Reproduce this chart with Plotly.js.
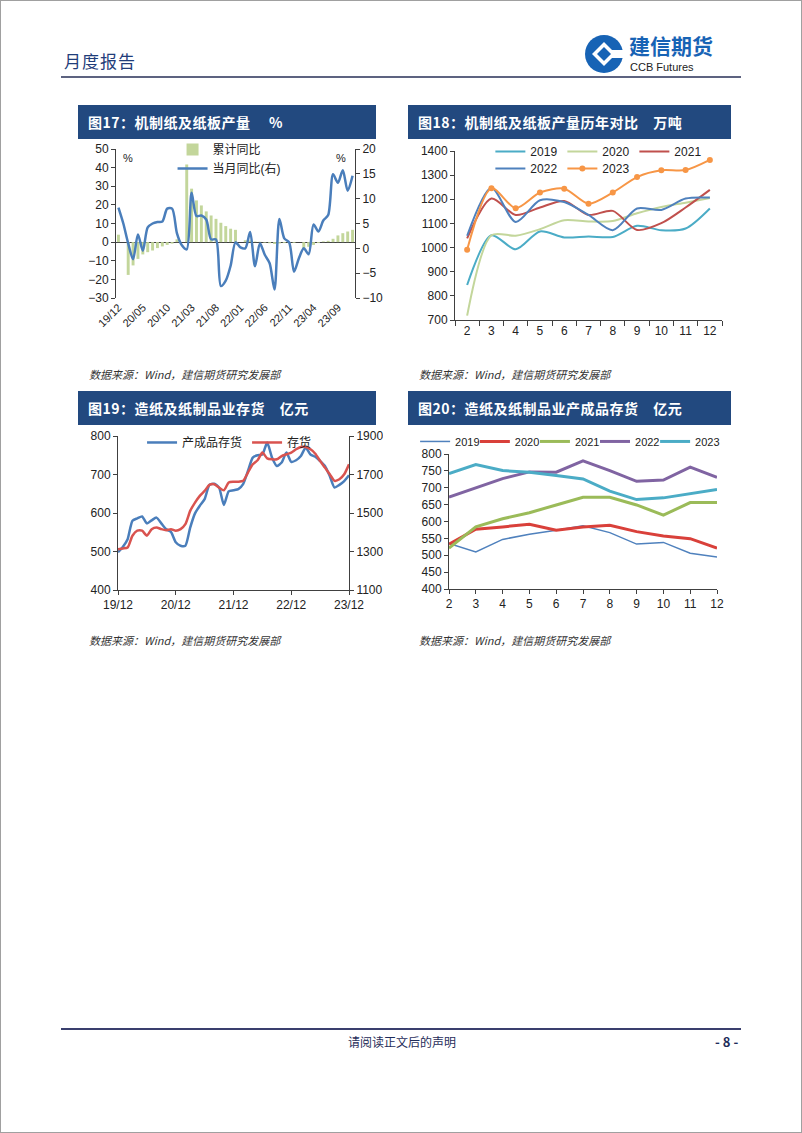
<!DOCTYPE html>
<html><head><meta charset="utf-8">
<script src="https://cdn.plot.ly/plotly-3.0.1.min.js"></script>
<style>
html,body{margin:0;padding:0;background:#fff;}
#page{position:relative;width:802px;height:1133px;box-sizing:border-box;border:1px solid #a0a0a0;overflow:hidden;font-family:"Noto Sans CJK SC","Liberation Sans",sans-serif;}
.abs{position:absolute;line-height:1;}
.band{position:absolute;z-index:2;background:#22497f;color:#fff;font-weight:bold;font-size:14px;line-height:34px;height:34px;padding-left:10px;box-sizing:border-box;letter-spacing:0.5px;}
.src{position:absolute;font-size:11px;font-style:italic;color:#333;}
.chart{position:absolute;z-index:1;}
</style></head>
<body><div id="page">
<div class="abs" style="left:63px;top:51px;font-size:17px;color:#1f3d7a;letter-spacing:1px;">月度报告</div>
<svg class="abs" style="left:580px;top:30px;" width="46" height="46" viewBox="0 0 46 46">
<circle cx="23" cy="23" r="19" fill="#1763b5"/>
<rect x="25" y="19" width="20" height="8" fill="#fff"/>
<polygon points="23,11 35,23 23,35 11,23" fill="#fff"/>
<polygon points="23,16 30,23 23,30 16,23" fill="#1763b5"/>
</svg>
<div class="abs" style="left:628px;top:34px;font-size:21px;font-weight:bold;color:#1763b5;">建信期货</div>
<div class="abs" style="left:629px;top:61px;font-size:11px;color:#222;font-family:'Liberation Sans',Arial,sans-serif;">CCB Futures</div>
<div class="abs" style="left:60px;top:75px;width:680px;height:2px;background:#5d6380;"></div>

<div class="band" style="left:77px;top:104px;width:298px;">图17：机制纸及纸板产量&nbsp;&nbsp;&nbsp;&nbsp;&nbsp;%</div>
<div class="band" style="left:407px;top:104px;width:323px;">图18：机制纸及纸板产量历年对比&nbsp;&nbsp;&nbsp;&nbsp;万吨</div>
<div class="band" style="left:77px;top:390px;width:298px;">图19：造纸及纸制品业存货&nbsp;&nbsp;&nbsp;&nbsp;亿元</div>
<div class="band" style="left:407px;top:390px;width:323px;">图20：造纸及纸制品业产成品存货&nbsp;&nbsp;&nbsp;&nbsp;亿元</div>

<div id="c17" class="chart" style="left:77px;top:128px;width:305px;height:222px;"></div>
<div id="c18" class="chart" style="left:407px;top:128px;width:323px;height:222px;"></div>
<div id="c19" class="chart" style="left:77px;top:414px;width:305px;height:206px;"></div>
<div id="c20" class="chart" style="left:407px;top:414px;width:323px;height:206px;"></div>

<div class="src" style="left:88px;top:365px;">数据来源：Wind，建信期货研究发展部</div>
<div class="src" style="left:418px;top:365px;">数据来源：Wind，建信期货研究发展部</div>
<div class="src" style="left:88px;top:631px;">数据来源：Wind，建信期货研究发展部</div>
<div class="src" style="left:418px;top:631px;">数据来源：Wind，建信期货研究发展部</div>

<div class="abs" style="left:60px;top:1027px;width:680px;height:2px;background:#3a3f6e;"></div>
<div class="abs" style="left:0;top:1035px;width:802px;text-align:center;font-size:12px;color:#1f2d5a;">请阅读正文后的声明</div>
<div class="abs" style="left:714px;top:1034px;font-size:13px;color:#1f2d5a;font-weight:bold;">- 8 -</div>
</div>
<script>
// ---------- Data ----------
const months = ['19/12','20/01','20/02','20/03','20/04','20/05','20/06','20/07','20/08','20/09','20/10','20/11',
 '20/12','21/01','21/02','21/03','21/04','21/05','21/06','21/07','21/08','21/09','21/10','21/11',
 '21/12','22/01','22/02','22/03','22/04','22/05','22/06','22/07','22/08','22/09','22/10','22/11',
 '22/12','23/01','23/02','23/03','23/04','23/05','23/06','23/07','23/08','23/09','23/10','23/11','23/12'];
const ticks17 = ['19/12','20/05','20/10','21/03','21/08','22/01','22/06','22/11','23/04','23/09'];
const cumYoY = [4.0,null,-17.6,-12.5,-9.0,-6.6,-5.4,-4.5,-3.2,-2.3,-1.5,-0.8,
 1.5,null,41.7,28.7,22.4,19.7,16.5,14.3,12.5,10.4,8.6,7.2,
 6.6,null,1.0,0.9,0.3,0.2,-0.3,-0.6,-1.0,-0.7,-0.5,-0.3,
 -0.4,null,-3.5,-2.5,-1.5,-0.5,0.4,0.7,1.8,3.6,4.8,5.7,6.6];
const monthYoY = [8.2,5.0,1.0,-2.2,2.8,-0.5,4.2,5.0,5.3,5.4,8.0,8.0,
 3.0,0.6,-0.2,11.2,6.5,6.6,5.8,1.8,1.8,-7.6,-6.5,-3.5,
 1.2,0.2,0.0,3.3,-3.6,1.0,-1.3,-3.0,-8.3,5.9,2.0,1.2,
 -4.7,-2.0,0.0,-1.2,4.8,3.4,5.6,6.7,14.9,13.2,15.7,11.6,14.6];

const mon = ['2','3','4','5','6','7','8','9','10','11','12'];
const years = ['2019','2020','2021','2022','2023'];
const prod2019 = [845,1051,993,1067,1042,1046,1044,1090,1072,1079,1162];
const prod2020 = [718,1051,1049,1076,1113,1108,1110,1142,1168,1186,1205];
const prod2021 = [1038,1203,1135,1166,1193,1135,1152,1073,1101,1166,1239];
const prod2022 = [1049,1248,1106,1196,1189,1135,1072,1162,1156,1203,1207];
const prod2023 = [991,1246,1163,1228,1244,1182,1228,1292,1320,1321,1363];

const ticks19 = ['19/12','20/12','21/12','22/12','23/12'];
const invFinished = [498,512,532,580,586,591,573,581,588,573,558,551,
 524,515,515,562,599,619,636,673,676,666,621,656,
 659,662,675,709,744,750,752,783,744,722,731,757,
 733,737,748,770,752,746,735,722,696,666,673,683,698];
const invTotal = [1312,1316,1321,1382,1408,1408,1382,1416,1425,1416,1411,1416,
 1408,1416,1442,1511,1554,1589,1615,1646,1649,1632,1618,1658,
 1662,1662,1667,1710,1753,1774,1814,1784,1779,1779,1796,1805,
 1814,1831,1843,1843,1831,1808,1770,1736,1701,1667,1675,1701,1753];

const fin2019 = [535,510,547,562,574,587,567,533,538,506,495];
const fin2020 = [533,577,584,592,574,584,589,570,557,549,521];
const fin2021 = [521,584,608,626,649,672,672,649,619,656,656];
const fin2022 = [672,700,727,747,746,780,751,719,723,761,731];
const fin2023 = [742,769,751,746,736,726,690,665,670,682,695];

// ---------- Common ----------
const FONT = {family:'"Liberation Sans", Arial, "Noto Sans CJK SC", sans-serif', size:12, color:'#222'};
const AX = '#404040';
const cfg = {staticPlot:true, displayModeBar:false};
const legBase = {xref:'container', yref:'container', xanchor:'left', yanchor:'top', bgcolor:'rgba(0,0,0,0)', borderwidth:0};
const BG = 'rgba(0,0,0,0)';

// ---------- Fig 17 ----------
Plotly.newPlot('c17', [
 {type:'bar', x:months, y:cumYoY, name:'累计同比', marker:{color:'#c3d69b'}, yaxis:'y'},
 {type:'scatter', mode:'lines', x:months, y:monthYoY, name:'当月同比(右)', yaxis:'y2',
  line:{color:'#4a7ebb', width:2.5, shape:'spline', smoothing:0.8}}
], {
 width:305, height:222, margin:{l:38,r:28,t:20,b:53,autoexpand:false},
 paper_bgcolor:BG, plot_bgcolor:BG, font:FONT, bargap:0.4, showlegend:true,
 legend:Object.assign({}, legBase, {x:0.31, y:0.973, font:{size:12,family:FONT.family}, tracegroupgap:0}),
 xaxis:{type:'category', range:[-0.5,48.5], tickmode:'array', tickvals:ticks17, ticktext:ticks17, tickangle:-45,
  showline:false, ticks:'', showgrid:false, tickfont:{size:11}, automargin:false},
 yaxis:{range:[-30,50], dtick:10, showline:true, linecolor:AX, ticks:'outside', ticklen:4, tickcolor:AX,
  showgrid:false, zeroline:true, zerolinecolor:AX, zerolinewidth:1, automargin:false},
 yaxis2:{range:[-10,20], dtick:5, overlaying:'y', side:'right', showline:true, linecolor:AX, ticks:'outside',
  ticklen:4, tickcolor:AX, showgrid:false, zeroline:false, automargin:false},
 annotations:[
  {text:'%', xref:'paper', yref:'paper', x:0.02, y:0.99, showarrow:false, xanchor:'left', yanchor:'top', font:{size:11}},
  {text:'%', xref:'paper', yref:'paper', x:0.97, y:0.99, showarrow:false, xanchor:'right', yanchor:'top', font:{size:11}}
 ]
}, cfg);

// ---------- Fig 18 ----------
const cols18 = ['#4bacc6','#c3d69b','#c0504d','#4f81bd','#f79646'];
const prodAll = [prod2019,prod2020,prod2021,prod2022,prod2023];
const tr18 = prodAll.map((d,i)=>({
 type:'scatter', mode: i===4 ? 'lines+markers' : 'lines', x:mon, y:d, name:years[i],
 line:{color:cols18[i], width:2, shape:'spline', smoothing:0.8},
 marker:{size:6, color:cols18[i]}, legend: i<3 ? 'legend' : 'legend2'
}));
Plotly.newPlot('c18', tr18, {
 width:323, height:222, margin:{l:47,r:9,t:22,b:31,autoexpand:false},
 paper_bgcolor:BG, plot_bgcolor:BG, font:FONT, showlegend:true,
 legend:Object.assign({}, legBase, {orientation:'h', x:0.255, y:0.964, entrywidth:27, font:{size:12,family:FONT.family}}),
 legend2:Object.assign({}, legBase, {orientation:'h', x:0.255, y:0.887, entrywidth:27, font:{size:12,family:FONT.family}}),
 xaxis:{type:'category', range:[-0.5,10.5], showline:true, linecolor:AX, ticks:'outside', tickson:'boundaries',
  ticklen:5, tickcolor:AX, showgrid:false, automargin:false},
 yaxis:{range:[700,1400], dtick:100, showline:true, linecolor:AX, ticks:'outside', ticklen:4, tickcolor:AX,
  showgrid:false, zeroline:false, automargin:false}
}, cfg);

// ---------- Fig 19 ----------
Plotly.newPlot('c19', [
 {type:'scatter', mode:'lines', x:months, y:invFinished, name:'产成品存货', yaxis:'y',
  line:{color:'#4a7ebb', width:2.5, shape:'spline', smoothing:0.6}},
 {type:'scatter', mode:'lines', x:months, y:invTotal, name:'存货', yaxis:'y2',
  line:{color:'#d9534f', width:2.5, shape:'spline', smoothing:0.6}}
], {
 width:305, height:206, margin:{l:40,r:34,t:21,b:31,autoexpand:false},
 paper_bgcolor:BG, plot_bgcolor:BG, font:FONT, showlegend:true,
 legend:Object.assign({}, legBase, {orientation:'h', x:0.21, y:0.937, font:{size:12,family:FONT.family}}),
 xaxis:{type:'category', range:[0,48], tickmode:'array', tickvals:ticks19, ticktext:ticks19,
  showline:true, linecolor:AX, ticks:'outside', ticklen:4, tickcolor:AX, showgrid:false, automargin:false},
 yaxis:{range:[400,800], dtick:100, showline:true, linecolor:AX, ticks:'outside', ticklen:4, tickcolor:AX,
  showgrid:false, zeroline:false, automargin:false},
 yaxis2:{range:[1100,1900], tick0:1100, dtick:200, overlaying:'y', side:'right', showline:true, linecolor:AX, ticks:'outside',
  ticklen:4, tickcolor:AX, showgrid:false, zeroline:false, automargin:false}
}, cfg);

// ---------- Fig 20 ----------
const cols20 = ['#4f81bd','#d9403a','#9bbb59','#8064a2','#4bacc6'];
const widths20 = [1.5,3,3,3,3];
const finAll = [fin2019,fin2020,fin2021,fin2022,fin2023];
const legIds20 = ['legend','legend2','legend3','legend4','legend5'];
const legX20 = [0.022,0.207,0.393,0.579,0.765];
const layout20 = {
 width:323, height:206, margin:{l:41,r:14,t:39,b:32,autoexpand:false},
 paper_bgcolor:BG, plot_bgcolor:BG, font:FONT, showlegend:true,
 xaxis:{type:'category', range:[0,10], showline:true, linecolor:AX, ticks:'outside', ticklen:4, tickcolor:AX, showgrid:false, automargin:false},
 yaxis:{range:[400,800], dtick:50, showline:true, linecolor:AX, ticks:'outside', ticklen:4, tickcolor:AX,
  showgrid:false, zeroline:false, automargin:false}
};
legIds20.forEach((id,i)=>{ layout20[id] = Object.assign({}, legBase, {orientation:'h', x:legX20[i], y:0.942, font:{size:11,family:FONT.family}}); });
Plotly.newPlot('c20', finAll.map((d,i)=>({
 type:'scatter', mode:'lines', x:mon, y:d, name:years[i],
 line:{color:cols20[i], width:widths20[i]}, legend: legIds20[i]
})), layout20, cfg);
</script>
</body></html>
